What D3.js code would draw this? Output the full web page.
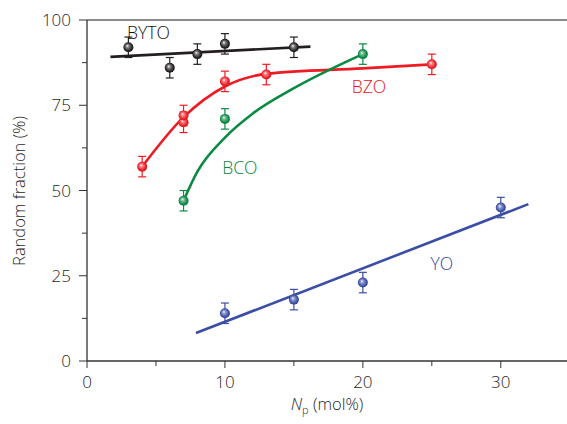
<!DOCTYPE html>
<html>
<head>
<meta charset="utf-8">
<script src="https://cdn.jsdelivr.net/npm/d3@7"></script>
<style>
  body { margin: 0; background: #fff; }
  text { font-family: "Open Sans", "Noto Sans", sans-serif; font-weight: 300; }
</style>
</head>
<body>
<svg id="chart" width="567" height="424"></svg>
<script>
// measured points (x = Np mol%, y = random fraction %)
var bytoX = [3, 6, 8, 10, 15];
var bytoY = [92, 86, 90, 93, 92];
var bzoX = [4, 7, 7, 10, 13, 25];
var bzoY = [57, 70, 72, 82, 84, 87];
var bcoX = [7, 10, 20];
var bcoY = [47, 71, 90];
var yoX = [10, 15, 20, 30];
var yoY = [14, 18, 23, 45];
var errBar = 3;

// fitted guide lines
var bytoFitX = [1.7, 16.2];
var bytoFitY = [89.2, 92.2];
var bzoFitX = [4, 7, 10, 13, 20, 25];
var bzoFitY = [57, 71.5, 80.5, 84.2, 85.8, 87];
var bcoFitX = [7, 8, 10, 12, 15, 20];
var bcoFitY = [47, 55.5, 65.5, 72.5, 80, 90];
var yoFitX = [7.9, 32];
var yoFitY = [8.2, 46];

var xTicks = [0, 10, 20, 30];
var yTicks = [0, 25, 50, 75, 100];

var series = [
  {name: "BYTO", color: "#231f20", text: "#111", x: bytoX, y: bytoY, fx: bytoFitX, fy: bytoFitY, curve: d3.curveLinear, lx: 2.9, ly: 94.3},
  {name: "BZO", color: "#ed1c24", text: "#e8121b", x: bzoX, y: bzoY, fx: bzoFitX, fy: bzoFitY, curve: d3.curveMonotoneX, lx: 19.2, ly: 78.7},
  {name: "BCO", color: "#0a8a43", text: "#068440", x: bcoX, y: bcoY, fx: bcoFitX, fy: bcoFitY, curve: d3.curveMonotoneX, lx: 9.8, ly: 54.8},
  {name: "YO", color: "#3a4ea5", text: "#3447a2", x: yoX, y: yoY, fx: yoFitX, fy: yoFitY, curve: d3.curveLinear, lx: 24.9, ly: 26.6}
];

var svg = d3.select("#chart");
var pLeft = 87, pRight = 567, pTop = 20, pBottom = 361;

var x = d3.scaleLinear().domain([0, 34.8]).range([pLeft, pRight]);
var y = d3.scaleLinear().domain([0, 100]).range([pBottom, pTop]);

// frame top line
svg.append("line")
    .attr("x1", pLeft).attr("x2", pRight)
    .attr("y1", pTop).attr("y2", pTop)
    .attr("stroke", "#8c8c8c")
    .attr("stroke-width", 2);

// axes
var xAxis = svg.append("g")
    .attr("transform", "translate(0," + pBottom + ")");
xAxis.append("line")
    .attr("x1", pLeft).attr("x2", pRight)
    .attr("stroke", "#333").attr("stroke-width", 1.3);
xAxis.selectAll(".minor")
    .data([5, 15, 25])
    .enter().append("line")
    .attr("x1", d => x(d)).attr("x2", d => x(d))
    .attr("y1", 0).attr("y2", 5)
    .attr("stroke", "#333").attr("stroke-width", 1);
xAxis.selectAll(".major")
    .data(xTicks)
    .enter().append("line")
    .attr("x1", d => x(d)).attr("x2", d => x(d))
    .attr("y1", 0).attr("y2", 7)
    .attr("stroke", "#333").attr("stroke-width", 1);
xAxis.selectAll(".label")
    .data(xTicks)
    .enter().append("text")
    .attr("x", d => x(d))
    .attr("y", 27)
    .attr("font-size", "17px")
    .attr("fill", "#1e1e1e")
    .style("text-anchor", "middle")
    .text(d => d);

var yAxis = svg.append("g")
    .attr("transform", "translate(" + pLeft + ",0)");
yAxis.append("line")
    .attr("y1", pTop).attr("y2", pBottom)
    .attr("stroke", "#333").attr("stroke-width", 1.3);
yAxis.selectAll(".minor")
    .data([12.5, 37.5, 62.5, 87.5])
    .enter().append("line")
    .attr("y1", d => y(d)).attr("y2", d => y(d))
    .attr("x1", -5).attr("x2", 0)
    .attr("stroke", "#333").attr("stroke-width", 1);
yAxis.selectAll(".major")
    .data(yTicks)
    .enter().append("line")
    .attr("y1", d => y(d)).attr("y2", d => y(d))
    .attr("x1", -8).attr("x2", 0)
    .attr("stroke", "#333").attr("stroke-width", 1);
yAxis.selectAll(".label")
    .data(yTicks)
    .enter().append("text")
    .attr("x", -16)
    .attr("y", d => y(d) + 6)
    .attr("font-size", "17px")
    .attr("fill", "#1e1e1e")
    .style("text-anchor", "end")
    .text(d => d);

svg.append("text")
    .attr("transform", "translate(25,191) rotate(-90)")
    .attr("font-size", "16.5px")
    .attr("fill", "#1e1e1e")
    .style("text-anchor", "middle")
    .text("Random fraction (%)");

var xl = svg.append("text")
    .attr("x", x(17.4))
    .attr("y", 410)
    .attr("font-size", "16.5px")
    .attr("fill", "#1e1e1e")
    .style("text-anchor", "middle");
xl.append("tspan").attr("font-style", "italic").text("N");
xl.append("tspan").attr("font-size", "11px").attr("dy", 4).text("p");
xl.append("tspan").attr("dy", -4).text(" (mol%)");

// sphere gradients
var defs = svg.append("defs");
series.forEach(function(s, i) {
  var g = defs.append("radialGradient")
      .attr("id", "ball" + i)
      .attr("cx", "0.5").attr("cy", "0.5").attr("r", "0.6")
      .attr("fx", "0.38").attr("fy", "0.35");
  g.append("stop").attr("offset", "0").attr("stop-color", "#fff");
  g.append("stop").attr("offset", "0.25").attr("stop-color", d3.interpolateRgb("#fff", s.color)(0.55));
  g.append("stop").attr("offset", "0.7").attr("stop-color", s.color);
  g.append("stop").attr("offset", "1").attr("stop-color", d3.color(s.color).darker(0.6));
});

var line = d3.line();

series.forEach(function(s, i) {
  var grp = svg.append("g");
  var fit = s.fx.map((v, k) => [x(v), y(s.fy[k])]);
  grp.append("path")
      .attr("d", line.curve(s.curve)(fit))
      .attr("fill", "none")
      .attr("stroke", s.color)
      .attr("stroke-width", 2.6);

  var pts = s.x.map((v, k) => ({x: v, y: s.y[k]}));
  var err = grp.selectAll(".err").data(pts).enter().append("g");
  err.append("line")
      .attr("x1", d => x(d.x)).attr("x2", d => x(d.x))
      .attr("y1", d => y(d.y - errBar)).attr("y2", d => y(d.y + errBar))
      .attr("stroke", s.color).attr("stroke-width", 1.2);
  [-errBar, errBar].forEach(function(e) {
    err.append("line")
        .attr("x1", d => x(d.x) - 4).attr("x2", d => x(d.x) + 4)
        .attr("y1", d => y(d.y + e)).attr("y2", d => y(d.y + e))
        .attr("stroke", s.color).attr("stroke-width", 1.2);
  });
  grp.selectAll(".pt").data(pts).enter().append("circle")
      .attr("cx", d => x(d.x))
      .attr("cy", d => y(d.y))
      .attr("r", 5)
      .attr("fill", "url(#ball" + i + ")");

  svg.append("text")
      .attr("x", x(s.lx))
      .attr("y", y(s.ly))
      .attr("font-size", "17.5px")
      .attr("fill", s.text)
      .text(s.name);
});
</script>
</body>
</html>
